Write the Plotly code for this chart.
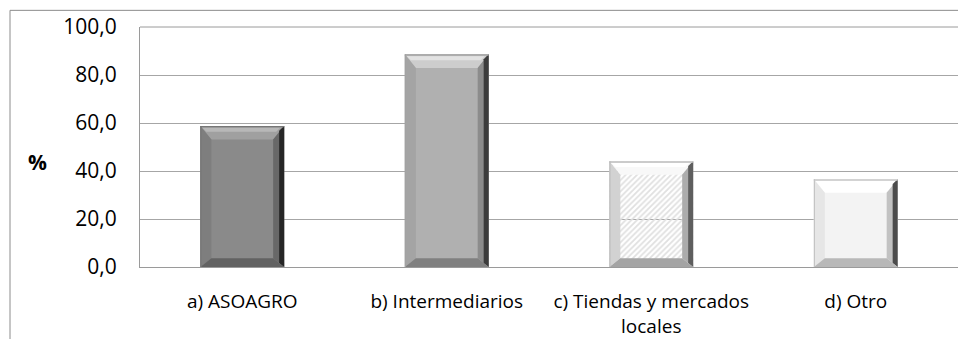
import plotly.graph_objects as go

# Survey shares (%) by sales channel
categories = ["a) ASOAGRO", "b) Intermediarios", "c) Tiendas y mercados<br>locales", "d) Otro"]
values = [58.8, 88.6, 44.1, 36.6]
y_ticks = [0, 20, 40, 60, 80, 100]

# Per-bar styling: face colour, pattern, bevel tones (top, left, right, right edge, bottom)
face_colors = ["#8a8a8a", "#b0b0b0", "#e0e0e0", "#f3f3f3"]
pattern_shapes = ["", "", "/", ""]
pattern_fg = ["#8a8a8a", "#b0b0b0", "#ffffff", "#f3f3f3"]
bevel_top = ["#a0a0a0", "#cdcdcd", "#f8f8f8", "#ffffff"]
bevel_left = ["#7e7e7e", "#a4a4a4", "#d2d2d2", "#e6e6e6"]
bevel_right = ["#686868", "#8c8c8c", "#acacac", "#c2c2c2"]
bevel_edge = ["#262626", "#3c3c3c", "#5e5e5e", "#4c4c4c"]
bevel_bottom = ["#626262", "#808080", "#a4a4a4", "#b8b8b8"]
top_highlight = ["#b8b8b8", "#e2e2e2", "#ffffff", "#ffffff"]
outline = ["#777777", "#a2a2a2", "#bcbcbc", "#c4c4c4"]

W, H = 958, 339
M_L, M_R, M_T, M_B = 140, 0, 27, 67
X_RANGE = [-0.5, 3.5]
Y_RANGE = [0, 100]
BAR_W = 0.41

px_x = (W - M_L - M_R) / (X_RANGE[1] - X_RANGE[0])
px_y = (H - M_T - M_B) / (Y_RANGE[1] - Y_RANGE[0])

xs = list(range(len(categories)))

fig = go.Figure()
fig.add_trace(go.Bar(
    x=xs, y=values, width=BAR_W,
    marker=dict(
        color=face_colors,
        line=dict(width=0),
        pattern=dict(shape=pattern_shapes, fgcolor=pattern_fg, bgcolor=face_colors,
                     size=4, solidity=0.45, fillmode="replace"),
    ),
    hoverinfo="skip",
))


def poly(points, color):
    path = "M " + " L ".join(f"{px},{py}" for px, py in points) + " Z"
    return dict(type="path", path=path, xref="x", yref="y", fillcolor=color,
                line=dict(width=0), layer="above")


shapes = []
b_top, b_bot, b_side, b_edge = 14, 9, 11, 5
for i, v in enumerate(values):
    x0, x1 = xs[i] - BAR_W / 2, xs[i] + BAR_W / 2
    dxs = b_side / px_x
    dxe = b_edge / px_x
    dyt = b_top / px_y
    dyb = b_bot / px_y
    dye = b_edge / px_y
    top_in = v - dyt
    shapes.append(poly([(x0, v), (x1, v), (x1 - dxs, top_in), (x0 + dxs, top_in)], bevel_top[i]))
    shapes.append(poly([(x0, v), (x0 + dxs, top_in), (x0 + dxs, dyb), (x0, 0)], bevel_left[i]))
    shapes.append(poly([(x1, v), (x1, 0), (x1 - dxs, dyb), (x1 - dxs, top_in)], bevel_right[i]))
    shapes.append(poly([(x1, v), (x1, 0), (x1 - dxe, dye * 0.8), (x1 - dxe, v - dye)], bevel_edge[i]))
    shapes.append(poly([(x0, 0), (x1, 0), (x1 - dxs, dyb), (x0 + dxs, dyb)], bevel_bottom[i]))
    # lighter band along the top edge
    shapes.append(poly([(x0 + dxe * 0.4, v - 2 / px_y), (x1 - dxe * 0.8, v - 2 / px_y),
                        (x1 - dxe * 1.6, v - 6 / px_y), (x0 + dxe * 1.2, v - 6 / px_y)], top_highlight[i]))
    # thin outline on the top and left edges
    shapes.append(poly([(x0, v), (x1, v), (x1, v - 1.5 / px_y), (x0, v - 1.5 / px_y)], outline[i]))
    shapes.append(poly([(x0, v), (x0 + 1.2 / px_x, v), (x0 + 1.2 / px_x, 0), (x0, 0)], outline[i]))

# outer chart frame
shapes.append(dict(type="rect", xref="paper", yref="paper",
                   x0=(10 - M_L) / (W - M_L - M_R), x1=1.05,
                   y0=-0.5, y1=(H - M_B - 10) / (H - M_T - M_B),
                   line=dict(color="#8c8c8c", width=1), fillcolor="rgba(0,0,0,0)", layer="below"))
# plot area top border
shapes.append(dict(type="line", xref="paper", yref="paper", x0=0, x1=1, y0=1, y1=1,
                   line=dict(color="#9a9a9a", width=1), layer="below"))

fig.update_layout(
    width=W, height=H,
    margin=dict(l=M_L, r=M_R, t=M_T, b=M_B, pad=0),
    paper_bgcolor="white", plot_bgcolor="white",
    font=dict(family="Open Sans", size=19, color="#000000"),
    separators=", ",
    showlegend=False,
    shapes=shapes,
    annotations=[dict(text="<b>%</b>", xref="paper", yref="paper",
                      x=(37 - M_L) / (W - M_L - M_R), y=(H - M_B - 165) / (H - M_T - M_B),
                      xanchor="center", yanchor="middle", showarrow=False,
                      font=dict(size=21, family="Open Sans"))],
)
fig.update_xaxes(
    range=X_RANGE, tickvals=xs, ticktext=categories,
    showgrid=False, zeroline=False, showline=True, linecolor="#9a9a9a", linewidth=1,
    ticks="", ticklabelstandoff=17, tickfont=dict(size=19),
)
fig.update_yaxes(
    range=Y_RANGE, tickvals=y_ticks, tickformat=".1f",
    showgrid=True, gridcolor="#a6a6a6", gridwidth=1,
    zeroline=False, showline=True, linecolor="#9a9a9a", linewidth=1,
    ticks="", ticklabelstandoff=18, tickfont=dict(size=21),
)

fig.write_html("out.html")
